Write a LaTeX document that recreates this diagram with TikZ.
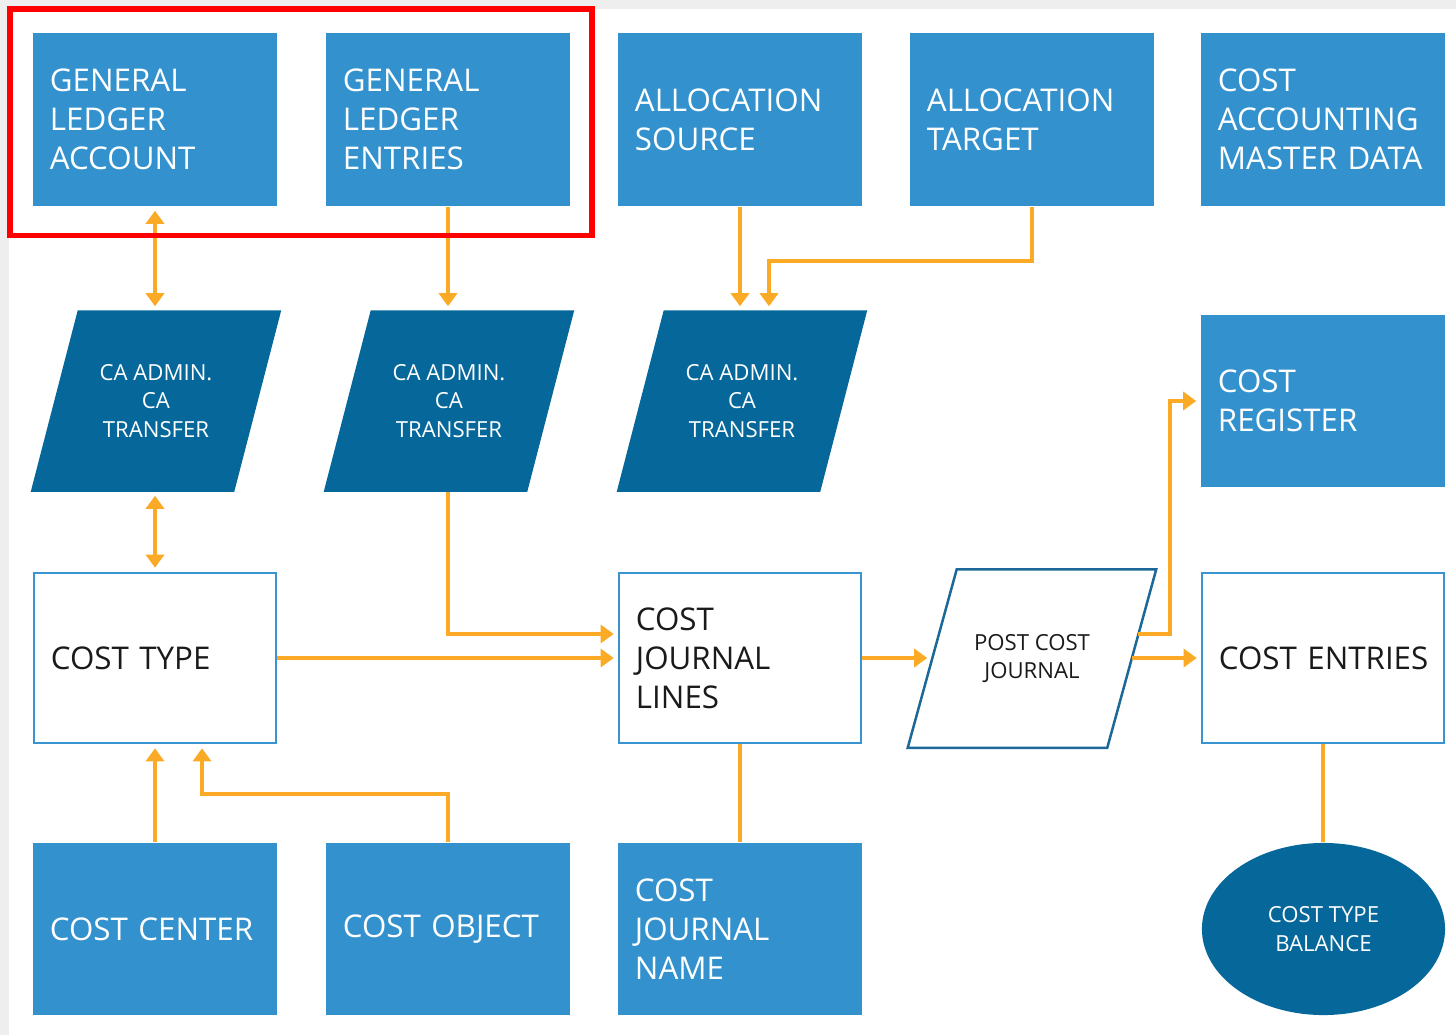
\documentclass[tikz,border=0pt]{standalone}
\usepackage{fontspec}
\setmainfont{Open Sans}
\usetikzlibrary{arrows.meta,shapes.geometric,calc,backgrounds}
\definecolor{cablue}{RGB}{51,146,206}
\definecolor{cadark}{RGB}{5,103,154}
\definecolor{caorange}{RGB}{250,170,36}
\definecolor{caline}{RGB}{58,148,210}
\definecolor{caedge}{RGB}{28,104,152}
\definecolor{cagray}{RGB}{238,238,238}
\definecolor{catext}{RGB}{26,26,26}
\begin{document}
\begin{tikzpicture}[x=0.01cm,y=-0.01cm,
  bigtxt/.style={font=\fontsize{8.9}{11.1}\selectfont},
  smalltxt/.style={font=\fontsize{6.3}{8}\selectfont},
  bluebox/.style={rectangle, fill=cablue, text=white, minimum width=2.44cm, minimum height=1.73cm,
    text width=2.10cm, inner xsep=0.17cm, inner ysep=0pt, align=left, bigtxt},
  linebox/.style={rectangle, draw=caline, line width=0.025cm, fill=white, text=catext,
    minimum width=2.42cm, minimum height=1.70cm, text width=2.08cm, inner xsep=0.16cm,
    inner ysep=0pt, align=left, bigtxt},
  paratxt/.style={rectangle, minimum width=2.02cm, minimum height=1.80cm, inner sep=0pt,
    align=center, smalltxt, text=white},
  conn/.style={draw=caorange, line width=0.04cm},
  arr/.style={conn, -{Triangle[length=0.13cm,width=0.18cm]}, shorten >=0.04cm},
  darr/.style={conn, {Triangle[length=0.13cm,width=0.18cm]}-{Triangle[length=0.13cm,width=0.18cm]},
    shorten >=0.04cm, shorten <=0.04cm}
]
\useasboundingbox (0,0) rectangle (1456,1035);
\begin{scope}[on background layer]
  \fill[cagray] (0,0) rectangle (1456,1035);
  \fill[white] (9,9) rectangle (1456,1035);
\end{scope}

% top row
\node[bluebox] (gla) at (155,119.5) {GENERAL\\LEDGER\\ACCOUNT};
\node[bluebox] (gle) at (448,119.5) {GENERAL\\LEDGER\\ENTRIES};
\node[bluebox] (as) at (740,119.5) {ALLOCATION\\SOURCE};
\node[bluebox] (at) at (1032,119.5) {ALLOCATION\\TARGET};
\node[bluebox] (camd) at (1323,119.5) {COST\\ACCOUNTING\\\mbox{MASTER DATA}};

% parallelograms (text nodes)
\node[paratxt] (p1) at (156,401) {CA ADMIN.\\CA\\TRANSFER};
\node[paratxt] (p2) at (449,401) {CA ADMIN.\\CA\\TRANSFER};
\node[paratxt] (p3) at (742,401) {CA ADMIN.\\CA\\TRANSFER};
\node[bluebox, minimum height=1.72cm] (creg) at (1323,401) {COST\\REGISTER};

% middle row
\node[linebox] (ct) at (155,658) {COST TYPE};
\node[linebox] (cjl) at (740,658) {COST\\JOURNAL\\LINES};
\node[paratxt, minimum width=1.98cm, minimum height=1.77cm, text=catext] (pcj) at (1032,658.5) {POST COST\\JOURNAL};
\node[linebox] (ce) at (1323,658) {\mbox{COST ENTRIES}};

% bottom row
\node[bluebox, minimum height=1.72cm] (cc) at (155,929) {\mbox{COST CENTER}};
\node[bluebox, minimum height=1.72cm] (co) at (448,929) {\mbox{COST OBJECT}};
\node[bluebox, minimum height=1.72cm] (cjn) at (740,929) {COST\\JOURNAL\\NAME};
\node[ellipse, fill=cadark, minimum width=2.43cm, minimum height=1.72cm, inner sep=0pt,
  text=white, align=center, smalltxt] (ctb) at (1323.5,929) {COST TYPE\\BALANCE};

% parallelogram shapes
\begin{scope}[on background layer]
  \foreach \p in {p1,p2,p3}{
    \fill[cadark] ($(\p.north west)+(23.5,0)$) -- ($(\p.north east)+(23.5,0)$)
      -- ($(\p.south east)+(-23.5,0)$) -- ($(\p.south west)+(-23.5,0)$) -- cycle;
  }
  \filldraw[fill=white, draw=caedge, line width=0.025cm]
    ($(pcj.north west)+(24.5,0)$) -- ($(pcj.north east)+(24.5,0)$)
    -- ($(pcj.south east)+(-24.5,0)$) -- ($(pcj.south west)+(-24.5,0)$) -- cycle;
\end{scope}

\coordinate (pcjr) at ($(pcj.east)+(6,-24.5)$);

% connectors
\draw[darr] (gla.south) -- (gla.south |- p1.north);
\draw[arr] (gle.south) -- (gle.south |- p2.north);
\draw[arr] (as.south) -- (as.south |- p3.north);
\draw[arr] (at.south) -- ++(0,54) -| ([xshift=0.27cm]p3.north);
\draw[darr] (gla.south |- p1.south) -- (ct.north);
\draw[arr] (gle.south |- p2.south) |- ([yshift=0.24cm]cjl.west);
\draw[arr] (ct.east) -- (cjl.west);
\draw[arr, shorten >=0.05cm] (cjl.east) -- (cjl.east -| pcj.west);
\draw[arr] (ce.west -| pcj.east) -- (ce.west);
\draw[arr] (pcjr) -- ++(32,0) |- (creg.west);
\draw[arr] (cc.north) -- (ct.south);
\draw[arr] (co.north) -- ++(0,-48) -| ([xshift=0.47cm]ct.south);
\draw[conn] (cjl.south) -- (cjn.north);
\draw[conn] (ce.south) -- (ce.south |- ctb.north);

% highlight
\draw[red, line width=0.055cm] (10,9) rectangle (592,235.5);
\end{tikzpicture}
\end{document}
